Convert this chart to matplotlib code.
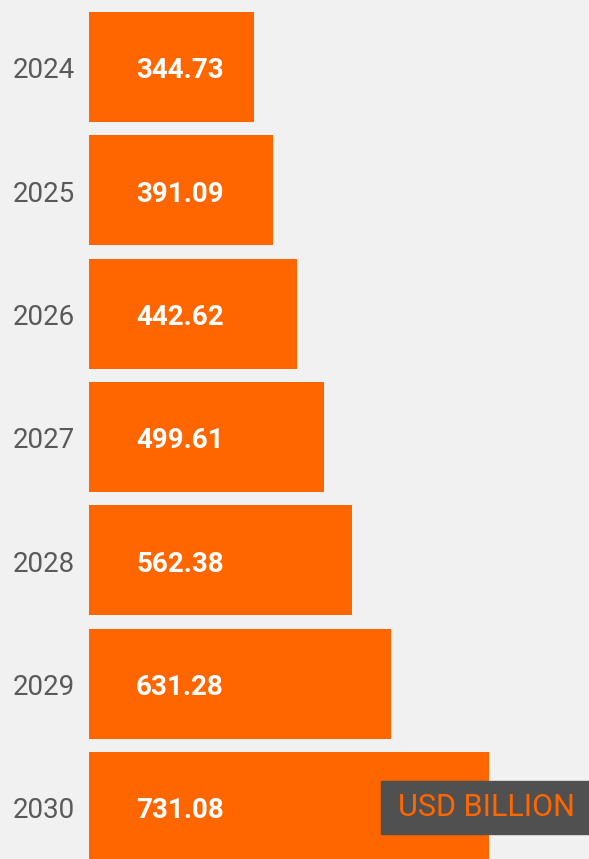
import matplotlib
matplotlib.use("Agg")
import matplotlib.pyplot as plt

# ----------------------------------------------------
# Data
# ----------------------------------------------------
years = ["2024", "2025", "2026", "2027", "2028", "2029", "2030"]
values = [344.73, 391.09, 442.62, 499.61, 562.38, 631.28, 731.08]
# bars are not drawn to scale in the original, so keep their lengths separately
bar_len = [165, 184, 208, 235, 263, 302, 400]
unit_label = "USD BILLION"

ORANGE = "#FF6600"
BG = "#F1F1F1"
GREY = "#5A5A5A"

fig = plt.figure(figsize=(5.89, 8.59), dpi=100)
fig.patch.set_facecolor(BG)
ax = fig.add_axes([89 / 589, 0, 500 / 589, 1])
ax.set_facecolor(BG)

pos = list(range(len(years)))
ax.barh(pos, bar_len, height=0.892, color=ORANGE, left=0)

pitch = 123.33
ax.set_ylim((859 - 67) / pitch, -67 / pitch)
ax.set_xlim(0, 500)

dy = 0.03  # text sits a little below bar centre
for i, (y, v) in enumerate(zip(years, values)):
    ax.text(47, i + dy, f"{v:.2f}", color="white", fontsize=20, fontweight="bold",
            family="Roboto", ha="left", va="center")
    ax.text(-14, i + dy, y, color=GREY, fontsize=20, fontweight="normal",
            family="Roboto", ha="right", va="center")

for s in ax.spines.values():
    s.set_visible(False)
ax.set_xticks([])
ax.set_yticks([])

# unit box at bottom right
fig.patches.append(plt.Rectangle((381 / 589, 1 - 834 / 859), 208 / 589, 53 / 859,
                                 transform=fig.transFigure, color="#505050", zorder=5))
fig.text(398 / 589, 1 - 808 / 859, unit_label, color=ORANGE, fontsize=22,
         fontweight="normal", family="Roboto", ha="left", va="center", zorder=6)

fig.savefig("out.png", dpi=100, facecolor=BG)
